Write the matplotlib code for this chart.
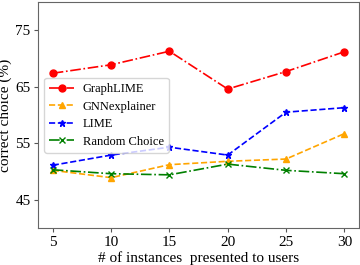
import matplotlib
matplotlib.use("Agg")
import matplotlib.pyplot as plt

plt.rcParams['font.family'] = ['Liberation Serif', 'DejaVu Serif']

x = [5, 10, 15, 20, 25, 30]
graphlime = [67.4, 68.9, 71.3, 64.6, 67.7, 71.2]
gnnexplainer = [50.2, 48.9, 51.2, 51.8, 52.2, 56.7]
lime = [51.1, 52.9, 54.3, 52.9, 60.5, 61.3]
random_choice = [50.3, 49.6, 49.4, 51.3, 50.2, 49.6]
yticks = [45, 55, 65, 75]

fig = plt.figure(figsize=(3.6, 2.65), dpi=100)
ax = fig.add_axes([0.106, 0.14, 0.891, 0.852])
ax.plot(x, graphlime, color='red', linestyle='-.', marker='o', markersize=5, linewidth=1.2, label='GraphLIME')
ax.plot(x, gnnexplainer, color='orange', linestyle='--', marker='^', markersize=5, linewidth=1.2, label='GNNexplainer')
ax.plot(x, lime, color='blue', linestyle='--', marker='*', markersize=5, linewidth=1.2, label='LIME')
ax.plot(x, random_choice, color='green', linestyle='-.', marker='x', markersize=4, linewidth=1.2, label='Random Choice')

ax.set_ylim(40, 80)
ax.set_xlim(3.75, 31.25)
ax.set_yticks(yticks)
ax.set_xticks(x)
ax.tick_params(labelsize=11, length=3, color='#555555', pad=2.5)
for s in ax.spines.values():
    s.set_color('#666666')
ax.set_xlabel('# of instances  presented to users', fontsize=11)
ax.xaxis.set_label_coords(0.5, -0.103)
ax.xaxis.label.set_va('top')
ax.set_ylabel('correct choice (%)', fontsize=11)
ax.yaxis.set_label_coords(-0.08, 0.5)
ax.legend(loc='upper left', bbox_to_anchor=(0.0187, 0.664), borderaxespad=0, fontsize=9,
          handlelength=2.0, handletextpad=0.7, borderpad=0.4, labelspacing=0.45)
fig.savefig('out.png', dpi=100)
